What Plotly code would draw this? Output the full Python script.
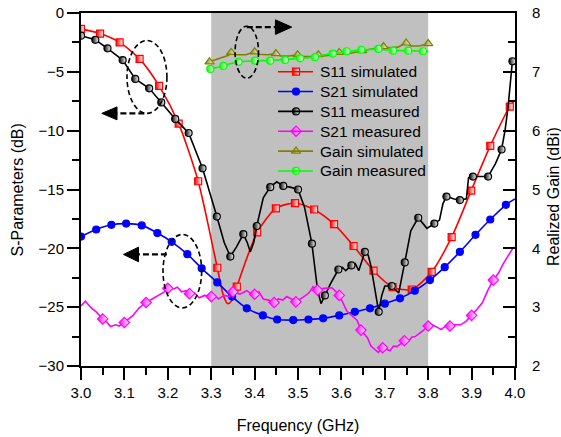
import plotly.graph_objects as go

# ---------------- data ----------------
# S11 simulated (dB)
s11_sim_f = [3.000, 3.044, 3.089, 3.135, 3.180, 3.225, 3.270, 3.314, 3.328, 3.338, 3.348, 3.359, 3.406,
             3.449, 3.493, 3.537, 3.583, 3.628, 3.674, 3.718, 3.762, 3.808, 3.854, 3.899, 3.943, 3.988, 4.000]
s11_sim_db = [-1.35, -1.75, -2.5, -3.9, -6.2, -9.4, -14.3, -21.65, -24.0, -24.7, -24.4, -23.25, -18.65,
              -16.6, -16.15, -16.7, -17.95, -19.8, -21.9, -23.3, -23.5, -22.0, -19.05, -15.1, -11.3, -7.96, -7.4]
s11_sim_mk_f = [3.000, 3.044, 3.089, 3.135, 3.180, 3.225, 3.270, 3.314, 3.359, 3.406, 3.449, 3.493, 3.537,
                3.583, 3.628, 3.674, 3.718, 3.762, 3.808, 3.854, 3.899, 3.943, 3.988]
s11_sim_mk_db = [-1.35, -1.75, -2.5, -3.9, -6.2, -9.4, -14.3, -21.65, -23.25, -18.65, -16.6, -16.15, -16.7,
                 -17.95, -19.8, -21.9, -23.3, -23.5, -22.0, -19.05, -15.1, -11.3, -7.96]

# S21 simulated (dB)
s21_sim_f = [3.000, 3.035, 3.070, 3.104, 3.140, 3.176, 3.209, 3.245, 3.278, 3.314, 3.348, 3.382, 3.419, 3.452,
             3.489, 3.524, 3.558, 3.595, 3.631, 3.666, 3.700, 3.735, 3.769, 3.804, 3.838, 3.873, 3.909, 3.943,
             3.979, 4.000]
s21_sim_db = [-19.0, -18.4, -18.0, -17.9, -18.05, -18.7, -19.45, -20.5, -21.7, -22.9, -24.1, -25.1, -25.7, -26.05,
              -26.1, -26.05, -25.95, -25.7, -25.4, -25.1, -24.7, -24.25, -23.6, -22.7, -21.6, -20.3, -18.85, -17.55,
              -16.3, -15.8]
s21_sim_mk_f = s21_sim_f[:-1]
s21_sim_mk_db = s21_sim_db[:-1]

# S11 measured (dB)
s11_meas_f = [3.000, 3.033, 3.061, 3.096, 3.125, 3.157, 3.185, 3.217, 3.248, 3.280, 3.313, 3.330, 3.344, 3.358,
              3.374, 3.383, 3.390, 3.398, 3.405, 3.420, 3.436, 3.451, 3.466, 3.482, 3.500, 3.515, 3.532, 3.545,
              3.553, 3.562, 3.575, 3.593, 3.602, 3.610, 3.623, 3.632, 3.640, 3.654, 3.662, 3.668, 3.677, 3.686,
              3.693, 3.700, 3.716, 3.724, 3.732, 3.746, 3.760, 3.777, 3.787, 3.797, 3.814, 3.826, 3.834, 3.842,
              3.860, 3.873, 3.888, 3.893, 3.903, 3.938, 3.955, 3.969, 3.977, 3.984, 3.994, 3.999]
s11_meas_db = [-1.93, -2.28, -3.0, -4.0, -5.6, -6.4, -7.6, -9.0, -10.2, -13.2, -17.3, -19.5, -20.7, -19.9,
               -18.8, -19.5, -20.3, -19.5, -18.1, -15.7, -14.8, -14.35, -14.7, -14.8, -15.0, -16.5, -19.6, -23.5,
               -24.7, -24.0, -23.0, -21.8, -21.6, -21.9, -21.45, -21.3, -21.9, -20.3, -20.6, -21.5, -23.5, -25.4,
               -24.0, -23.2, -23.2, -23.5, -23.8, -21.2, -18.5, -17.4, -17.9, -18.3, -17.9, -17.6, -16.2, -15.6,
               -15.8, -15.9, -15.8, -14.0, -13.9, -13.9, -12.8, -11.6, -10.0, -8.0, -4.1, -3.9]
s11_meas_mk_f = [3.000, 3.033, 3.061, 3.096, 3.125, 3.157, 3.185, 3.217, 3.248, 3.280, 3.313, 3.344, 3.374,
                 3.405, 3.436, 3.466, 3.500, 3.532, 3.562, 3.593, 3.623, 3.654, 3.686, 3.716, 3.746, 3.777,
                 3.814, 3.842, 3.873, 3.903, 3.938, 3.969, 3.994]
s11_meas_mk_db = [-1.93, -2.28, -3.0, -4.0, -5.6, -6.4, -7.6, -9.0, -10.2, -13.2, -17.3, -20.7, -18.8,
                  -18.1, -14.8, -14.7, -15.0, -19.6, -24.0, -21.8, -21.45, -20.3, -25.4, -23.2, -21.2, -17.4,
                  -17.9, -15.6, -15.9, -13.9, -13.9, -11.6, -4.1]

# S21 measured (dB)
s21_meas_f = [3.000, 3.010, 3.022, 3.035, 3.050, 3.060, 3.068, 3.080, 3.088, 3.100, 3.110, 3.120, 3.133, 3.150,
              3.160, 3.170, 3.182, 3.192, 3.200, 3.213, 3.222, 3.232, 3.242, 3.250, 3.262, 3.272, 3.285, 3.300,
              3.308, 3.317, 3.330, 3.342, 3.350, 3.366, 3.382, 3.390, 3.400, 3.410, 3.420, 3.432, 3.445, 3.455,
              3.465, 3.474, 3.485, 3.495, 3.512, 3.525, 3.535, 3.545, 3.560, 3.578, 3.588, 3.595, 3.602, 3.612,
              3.620, 3.628, 3.636, 3.645, 3.653, 3.660, 3.668, 3.676, 3.685, 3.695, 3.704, 3.712, 3.720, 3.728,
              3.737, 3.745, 3.755, 3.762, 3.770, 3.778, 3.788, 3.800, 3.810, 3.820, 3.830, 3.840, 3.850, 3.862,
              3.875, 3.887, 3.900, 3.912, 3.925, 3.937, 3.950, 3.962, 3.973, 3.985, 3.995, 4.000]
s21_meas_db = [-24.9, -24.5, -25.0, -25.4, -26.0, -26.3, -26.65, -26.5, -26.6, -26.3, -26.0, -25.7, -25.1, -24.6,
               -24.4, -24.2, -23.9, -23.7, -23.4, -23.45, -23.3, -23.7, -23.6, -23.85, -23.8, -24.2, -24.0, -24.1,
               -24.0, -24.3, -24.0, -24.1, -23.7, -23.9, -23.6, -23.8, -23.9, -23.7, -24.3, -24.4, -24.6, -24.3,
               -24.4, -24.1, -24.3, -24.55, -24.15, -23.8, -23.25, -23.55, -23.4, -23.35, -23.7, -24.0, -24.5, -25.3,
               -25.6, -25.85, -26.1, -26.95, -27.3, -27.6, -28.3, -28.6, -28.85, -28.45, -28.6, -28.7, -28.3, -28.35,
               -28.1, -27.85, -27.9, -27.55, -27.5, -27.3, -27.0, -26.6, -26.5, -26.7, -26.9, -26.6, -26.6, -26.5,
               -26.5, -26.2, -25.7, -25.2, -24.6, -23.6, -22.7, -22.1, -21.3, -20.6, -20.0, -19.9]
s21_meas_mk_f = [3.050, 3.100, 3.150, 3.200, 3.250, 3.300, 3.350, 3.400, 3.445, 3.495, 3.545, 3.595, 3.645,
                 3.695, 3.745, 3.800, 3.850, 3.900, 3.950]
s21_meas_mk_db = [-26.0, -26.3, -24.6, -23.4, -23.85, -24.1, -23.7, -23.9, -24.6, -24.55, -23.55, -24.0, -26.95,
                  -28.45, -27.85, -26.6, -26.6, -25.7, -22.7]

# Realized gain simulated (dBi)
gain_sim_f = [3.296, 3.320, 3.340, 3.346, 3.356, 3.380, 3.400, 3.410, 3.430, 3.449, 3.460, 3.480, 3.499, 3.510,
              3.530, 3.547, 3.560, 3.580, 3.595, 3.610, 3.630, 3.648, 3.660, 3.680, 3.697, 3.710, 3.730, 3.749,
              3.760, 3.780, 3.800]
gain_sim_dbi = [7.17, 7.23, 7.28, 7.33, 7.29, 7.29, 7.34, 7.30, 7.29, 7.31, 7.27, 7.27, 7.29, 7.26,
                7.26, 7.29, 7.27, 7.29, 7.33, 7.30, 7.33, 7.36, 7.38, 7.40, 7.43, 7.41, 7.42, 7.49,
                7.44, 7.44, 7.48]
gain_sim_mk_f = [3.296, 3.346, 3.400, 3.449, 3.499, 3.547, 3.595, 3.648, 3.697, 3.749, 3.800]
gain_sim_mk_dbi = [7.17, 7.33, 7.34, 7.31, 7.29, 7.29, 7.33, 7.36, 7.43, 7.49, 7.48]

# Realized gain measured (dBi)
gain_meas_f = [3.298, 3.312, 3.328, 3.345, 3.363, 3.380, 3.401, 3.418, 3.436, 3.452, 3.470, 3.488, 3.505, 3.522,
               3.539, 3.560, 3.580, 3.596, 3.612, 3.630, 3.646, 3.665, 3.685, 3.702, 3.719, 3.737, 3.754, 3.770,
               3.788, 3.800]
gain_meas_dbi = [7.05, 7.07, 7.10, 7.14, 7.17, 7.18, 7.19, 7.19, 7.19, 7.20, 7.20, 7.22, 7.23, 7.24,
                 7.25, 7.29, 7.31, 7.32, 7.35, 7.36, 7.375, 7.38, 7.39, 7.37, 7.36, 7.36, 7.36, 7.35,
                 7.35, 7.35]
gain_meas_mk_f = [3.298, 3.328, 3.363, 3.401, 3.436, 3.470, 3.505, 3.539, 3.580, 3.612, 3.646, 3.685, 3.719,
                  3.754, 3.788]
gain_meas_mk_dbi = [7.05, 7.10, 7.17, 7.19, 7.19, 7.20, 7.23, 7.25, 7.31, 7.35, 7.375, 7.39, 7.36, 7.36, 7.35]

series_names = ["S11 simulated", "S21 simulated", "S11 measured", "S21 measured",
                "Gain simulated", "Gain measured"]

# ---------------- figure ----------------
FONT = "Liberation Sans, Arial, sans-serif"
fig = go.Figure()

# plot-area geometry (px)
W, H = 561, 437
ML, MR, MT, MB = 81, 46, 13, 71
PW, PH = W - ML - MR, H - MT - MB


def px_to_paper(px, py):
    return (px - ML) / PW, (H - MB - py) / PH


def make_marker(color, symbol, size, half):
    m = dict(symbol=symbol, size=size, color=color, line=dict(color=color, width=1.2))
    if half:
        m["gradient"] = dict(type="horizontal", color="white")
    return m


styles = [
    dict(color="#ff0000", symbol="square", size=7, half=True, shape="spline", smoothing=0.7, yaxis="y"),
    dict(color="#0000ff", symbol="circle", size=7, half=False, shape="spline", smoothing=0.8, yaxis="y"),
    dict(color="#000000", symbol="circle", size=7, half=True, shape="linear", smoothing=None, yaxis="y"),
    dict(color="#ff00ff", symbol="diamond", size=8, half=True, shape="linear", smoothing=None, yaxis="y"),
    dict(color="#808000", symbol="triangle-up", size=8, half=True, shape="linear", smoothing=None, yaxis="y2"),
    dict(color="#00ff00", symbol="circle", size=7, half=True, shape="linear", smoothing=None, yaxis="y2"),
]
series = [
    (s11_sim_f, s11_sim_db, s11_sim_mk_f, s11_sim_mk_db),
    (s21_sim_f, s21_sim_db, s21_sim_mk_f, s21_sim_mk_db),
    (s11_meas_f, s11_meas_db, s11_meas_mk_f, s11_meas_mk_db),
    (s21_meas_f, s21_meas_db, s21_meas_mk_f, s21_meas_mk_db),
    (gain_sim_f, gain_sim_dbi, gain_sim_mk_f, gain_sim_mk_dbi),
    (gain_meas_f, gain_meas_dbi, gain_meas_mk_f, gain_meas_mk_dbi),
]

for name, st, (lf, lv, mf, mv) in zip(series_names, styles, series):
    line = dict(color=st["color"], width=1.6, shape=st["shape"])
    if st["smoothing"] is not None:
        line["smoothing"] = st["smoothing"]
    mk = make_marker(st["color"], st["symbol"], st["size"], st["half"])
    fig.add_trace(go.Scatter(x=lf, y=lv, mode="lines", line=line, yaxis=st["yaxis"],
                             name=name, showlegend=False, hoverinfo="skip"))
    fig.add_trace(go.Scatter(x=mf, y=mv, mode="markers", marker=mk, yaxis=st["yaxis"],
                             name=name, showlegend=False, hoverinfo="skip"))

# grey operating band
fig.add_shape(type="rect", xref="x", yref="paper", x0=3.3, x1=3.8, y0=0, y1=1,
              fillcolor="#c0c0c0", line_width=0, layer="below")

# dashed ellipses and arrows (annotation graphics, in data units of the left axis)
dash_line = dict(color="black", width=1.6, dash="5px,3px")
ellipses = [(3.106, 3.198, -8.53, -2.34), (3.355, 3.409, -5.54, -1.12), (3.189, 3.278, -25.06, -18.82)]
for x0, x1, y0, y1 in ellipses:
    fig.add_shape(type="circle", xref="x", yref="y", x0=x0, x1=x1, y0=y0, y1=y1, line=dash_line)

# arrows: (start x, base x, tip x, y, half-height)
arrows = [(3.146, 3.083, 3.048, -8.53, 0.55), (3.382, 3.448, 3.4855, -1.2, 0.62),
          (3.198, 3.1325, 3.098, -20.52, 0.62)]
for xs, xb, xt, y, hh in arrows:
    fig.add_shape(type="line", xref="x", yref="y", x0=xs, x1=xb, y0=y, y1=y,
                  line=dict(color="black", width=2.2, dash="6px,3px"))
    fig.add_shape(type="path", xref="x", yref="y",
                  path=f"M {xt},{y} L {xb},{y + hh} L {xb},{y - hh} Z",
                  fillcolor="black", line=dict(color="black", width=1))

# hand-drawn legend (rows of sample line + marker + text)
LEG_X0, LEG_X1, LEG_MK, LEG_TX = 278, 313, 296, 318
LEG_Y0, LEG_DY = 71.7, 19.85
for i, (name, st) in enumerate(zip(series_names, styles)):
    py = LEG_Y0 + i * LEG_DY
    xa, ya = px_to_paper(LEG_X0, py)
    xb, _ = px_to_paper(LEG_X1, py)
    fig.add_shape(type="line", xref="paper", yref="paper", x0=xa, x1=xb, y0=ya, y1=ya,
                  line=dict(color=st["color"], width=1.6))
    xm, _ = px_to_paper(LEG_MK, py)
    fig.add_trace(go.Scatter(x=[xm], y=[ya], mode="markers", xaxis="x3", yaxis="y3",
                             marker=make_marker(st["color"], st["symbol"], st["size"], st["half"]),
                             showlegend=False, hoverinfo="skip", name=name))
    xt, _ = px_to_paper(LEG_TX, py)
    fig.add_annotation(x=xt, y=ya, xref="paper", yref="paper", text=name, showarrow=False,
                       xanchor="left", yanchor="middle", font=dict(family=FONT, size=15.5, color="black"))

# vertical axis titles
lx, ly = px_to_paper(16.5, 190)
fig.add_annotation(x=lx, y=ly, xref="paper", yref="paper", text="S-Parameters (dB)", textangle=-90,
                   showarrow=False, xanchor="center", yanchor="middle",
                   font=dict(family=FONT, size=16, color="black"))
rx, ry = px_to_paper(553, 197)
fig.add_annotation(x=rx, y=ry, xref="paper", yref="paper", text="Realized Gain (dBi)", textangle=-90,
                   showarrow=False, xanchor="center", yanchor="middle",
                   font=dict(family=FONT, size=16, color="black"))

axis_common = dict(showgrid=False, zeroline=False, showline=True, linecolor="black", linewidth=2,
                   tickcolor="black", tickwidth=2, ticklen=12, automargin=False,
                   tickfont=dict(family=FONT, size=15, color="black"))

fig.update_layout(
    width=W, height=H,
    margin=dict(l=ML, r=MR, t=MT, b=MB),
    paper_bgcolor="white", plot_bgcolor="white",
    font=dict(family=FONT, size=15, color="black"),
    showlegend=False,
    xaxis=dict(range=[3.0, 4.0], dtick=0.1, tickformat=".1f", ticks="outside", mirror=True,
               minor=dict(dtick=0.05, ticks="outside", ticklen=7, tickcolor="black", tickwidth=2),
               title=dict(text="Frequency (GHz)", font=dict(family=FONT, size=16), standoff=20),
               **axis_common),
    yaxis=dict(range=[-30, 0], dtick=5, ticks="outside",
               minor=dict(dtick=2.5, ticks="outside", ticklen=7, tickcolor="black", tickwidth=2),
               **axis_common),
    yaxis2=dict(range=[2, 8], dtick=1, ticks="inside", overlaying="y", side="right",
                ticklabelstandoff=12,
                minor=dict(dtick=0.5, ticks="inside", ticklen=7, tickcolor="black", tickwidth=2),
                **axis_common),
    xaxis3=dict(range=[0, 1], overlaying="x", visible=False, fixedrange=True),
    yaxis3=dict(range=[0, 1], overlaying="y", visible=False, fixedrange=True),
)

fig.write_html("out.html", config={"displayModeBar": False},
               post_script="document.body.style.margin='0';")
